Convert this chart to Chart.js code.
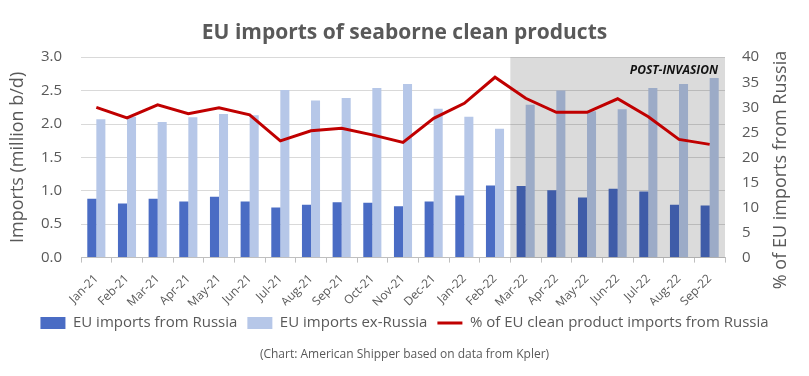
<!DOCTYPE html>
<html>
<head>
<meta charset="utf-8">
<script src="https://cdn.jsdelivr.net/npm/chart.js@4/dist/chart.umd.min.js"></script>
<style>
html,body{margin:0;padding:0;background:#fff;}
#wrap{width:809px;height:376px;}
</style>
</head>
<body>
<div id="wrap"><canvas id="c" width="809" height="376"></canvas></div>
<script>
const months = ["Jan-21","Feb-21","Mar-21","Apr-21","May-21","Jun-21","Jul-21","Aug-21","Sep-21","Oct-21","Nov-21","Dec-21","Jan-22","Feb-22","Mar-22","Apr-22","May-22","Jun-22","Jul-22","Aug-22","Sep-22"];
const importsFromRussia = [0.88,0.81,0.88,0.84,0.91,0.84,0.75,0.79,0.83,0.82,0.77,0.84,0.93,1.08,1.07,1.01,0.90,1.03,0.99,0.79,0.78];
const importsExRussia = [2.07,2.11,2.03,2.10,2.15,2.13,2.51,2.35,2.39,2.54,2.60,2.23,2.11,1.93,2.29,2.50,2.19,2.22,2.54,2.60,2.69];
const shareFromRussia = [30.0,27.9,30.5,28.7,29.9,28.5,23.3,25.3,25.8,24.5,23.0,27.8,30.8,36.0,31.8,29.0,29.0,31.7,28.1,23.6,22.6];
const leftTicksMax = 3.0, leftTicksStep = 0.5;
const rightTicksMax = 40, rightTicksStep = 5;
const postInvasionStart = "Mar-22";
const postInvasionLabel = "POST-INVASION";
const rightAxisTitle = "% of EU imports from Russia";

const FONT = "'Open Sans', sans-serif";
Chart.defaults.font.family = FONT;
Chart.defaults.color = '#595959';

const shadePlugin = {
  id: 'shade',
  beforeDatasetDraw(chart, args) {
    if (args.index !== 2) return;
    const {ctx, chartArea, scales} = chart;
    const x = scales.x;
    const idx = months.indexOf(postInvasionStart);
    const half = (x.getPixelForValue(1) - x.getPixelForValue(0)) / 2;
    const x0 = x.getPixelForValue(idx) - half;
    ctx.save();
    ctx.fillStyle = 'rgba(0,0,0,0.14)';
    ctx.fillRect(x0, chartArea.top, chartArea.right - x0, chartArea.bottom - chartArea.top);
    ctx.fillStyle = '#111';
    ctx.font = "italic bold 12px " + FONT;
    ctx.textAlign = 'right';
    ctx.textBaseline = 'middle';
    ctx.fillText(postInvasionLabel, chartArea.right - 7, chartArea.top + 13);
    ctx.restore();
  },
  afterDraw(chart) {
    const {ctx} = chart;
    ctx.save();
    ctx.translate(781, 170);
    ctx.rotate(-Math.PI / 2);
    ctx.fillStyle = '#595959';
    ctx.font = "18px " + FONT;
    ctx.textAlign = 'center';
    ctx.textBaseline = 'middle';
    ctx.fillText(rightAxisTitle, 0, 0);
    ctx.restore();
  }
};

new Chart(document.getElementById('c'), {
  type: 'bar',
  data: {
    labels: months,
    datasets: [
      {label: 'EU imports from Russia', data: importsFromRussia, backgroundColor: '#4A6CC4', yAxisID: 'y', order: 1},
      {label: 'EU imports ex-Russia', data: importsExRussia, backgroundColor: '#B6C7E8', yAxisID: 'y', order: 1},
      {label: '% of EU clean product imports from Russia', data: shareFromRussia, type: 'line', borderColor: '#C00000', backgroundColor: '#C00000', borderWidth: 3, pointRadius: 0, tension: 0, yAxisID: 'y1', order: 0}
    ]
  },
  options: {
    responsive: false,
    animation: false,
    categoryPercentage: 0.59,
    barPercentage: 1.0,
    layout: {padding: 0},
    plugins: {
      title: {
        display: true,
        text: 'EU imports of seaborne clean products',
        font: {size: 21, weight: 'bold', family: FONT},
        color: '#595959',
        padding: {top: 20, bottom: 12}
      },
      subtitle: {
        display: true,
        position: 'bottom',
        text: '(Chart: American Shipper based on data from Kpler)',
        font: {size: 12, family: FONT},
        color: '#595959',
        padding: {top: 7, bottom: 14}
      },
      legend: {
        position: 'bottom',
        labels: {
          usePointStyle: true,
          pointStyleWidth: 25,
          boxWidth: 25,
          boxHeight: 12,
          padding: 10,
          color: '#595959',
          font: {size: 15, family: FONT},
          generateLabels(chart) {
            const items = Chart.defaults.plugins.legend.labels.generateLabels(chart);
            items.sort((a, b) => a.datasetIndex - b.datasetIndex);
            items.forEach(it => {
              const ds = chart.data.datasets[it.datasetIndex];
              if (ds.type === 'line') {
                it.pointStyle = 'line'; it.lineWidth = 3; it.strokeStyle = ds.borderColor; it.fillStyle = ds.borderColor;
              } else {
                it.pointStyle = 'rect'; it.lineWidth = 0; it.fillStyle = ds.backgroundColor; it.strokeStyle = ds.backgroundColor;
              }
            });
            return items;
          }
        }
      },
      tooltip: {enabled: false}
    },
    scales: {
      x: {
        grid: {display: true, drawOnChartArea: false, drawTicks: true, tickLength: 5, color: '#BFBFBF', offset: true},
        border: {display: true, color: '#BFBFBF'},
        ticks: {autoSkip: false, maxRotation: 45, minRotation: 45, padding: 9, font: {size: 12, family: FONT}, color: '#595959'},
        afterFit(s) { s.height = 48; }
      },
      y: {
        position: 'left',
        min: 0, max: leftTicksMax,
        ticks: {stepSize: leftTicksStep, padding: 19, font: {size: 15, family: FONT}, color: '#595959', callback: v => v.toFixed(1)},
        grid: {color: '#D9D9D9', drawTicks: false},
        border: {display: false},
        title: {display: true, text: 'Imports (million b/d)', font: {size: 18, family: FONT}, color: '#595959', padding: {top: 7, bottom: 0}},
        afterFit(s) { s.width = 81; }
      },
      y1: {
        position: 'right',
        min: 0, max: rightTicksMax,
        ticks: {stepSize: rightTicksStep, padding: 17, font: {size: 15, family: FONT}, color: '#595959'},
        grid: {drawOnChartArea: false, drawTicks: false},
        border: {display: false},
        afterFit(s) { s.width = 84; }
      }
    }
  },
  plugins: [shadePlugin]
});
</script>
</body>
</html>
